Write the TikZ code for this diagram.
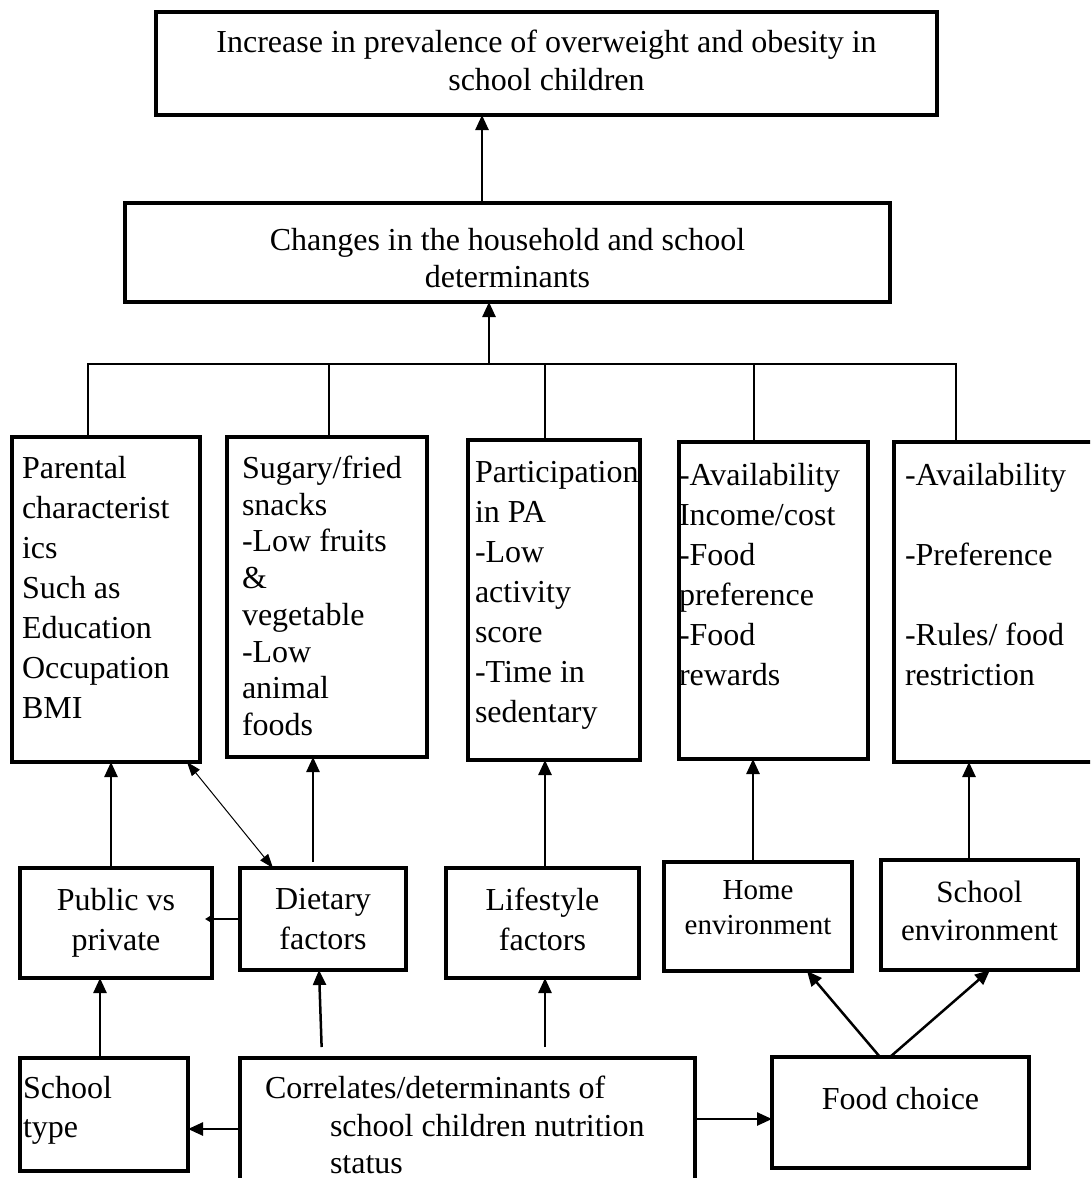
\documentclass[tikz,border=0pt]{standalone}
\usepackage{fontspec}
\setmainfont{Liberation Serif}
\usetikzlibrary{arrows.meta}

\newcommand{\varbus}{364}
\newcommand{\boxcell}[4]{\begin{minipage}[c][#2][t]{#1}\vspace*{#3}#4\end{minipage}}

\tikzset{
	box/.style={draw, line width=3.2pt, anchor=north west, inner sep=0pt, outer sep=0pt,
		font=\fontsize{32}{40}\selectfont},
	link/.style={line width=2.5pt, -{Triangle[length=15pt,width=13pt]}},
	smalllink/.style={line width=2.5pt, -{Triangle[length=8pt,width=9pt]}, shorten >=-7pt},
	twoway/.style={line width=1pt, {Triangle[length=14pt,width=10pt]}-{Triangle[length=14pt,width=10pt]}},
	bus/.style={line width=2.7pt},
}

\begin{document}
\begin{tikzpicture}[x=1pt, y=-1pt]

	\useasboundingbox (0,0) rectangle (1090,1178);
	\clip (0,0) rectangle (1090,1178);

	% top boxes
	\node[box, line width=4pt, font=\fontsize{32}{38}\selectfont] (increase) at (156,12)
		{\boxcell{781pt}{103pt}{18pt}{\centering Increase in prevalence of overweight and obesity in\\school children}};
	\node[box, line width=3.5pt, font=\fontsize{32}{37}\selectfont] (changes) at (125,203)
		{\boxcell{765pt}{99pt}{25pt}{\centering Changes in the household and school\\determinants}};

	% determinant lists
	\node[box] (parental) at (12,437)
		{\boxcell{188pt}{325pt}{19pt}{\leftskip=10pt Parental\\characterist\\ics\\Such as\\Education\\Occupation\\BMI}};
	\node[box, font=\fontsize{32}{36.7}\selectfont] (snacks) at (227,437)
		{\boxcell{200pt}{320pt}{19pt}{\leftskip=15pt Sugary/fried\\snacks\\-Low fruits\\\&\\vegetable\\-Low\\animal\\foods}};
	\node[box] (activity) at (468,440)
		{\boxcell{172pt}{320pt}{21pt}{\leftskip=7pt Participation\\in PA\\-Low\\activity\\score\\-Time in\\sedentary}};
	\node[box] (homelist) at (679,442)
		{\boxcell{189pt}{317pt}{21pt}{-Availability\\Income/cost\\-Food\\preference\\-Food\\rewards}};
	\node[box] (schoollist) at (894,442)
		{\boxcell{215pt}{320pt}{21pt}{\leftskip=11pt -Availability\\[40pt]-Preference\\[40pt]-Rules/ food\\restriction}};

	% factor boxes
	\node[box] (public) at (20,868)
		{\boxcell{192pt}{110pt}{20pt}{\centering Public vs\\private}};
	\node[box] (dietary) at (240,868)
		{\boxcell{166pt}{102pt}{20pt}{\centering Dietary\\factors}};
	\node[box] (lifestyle) at (446,868)
		{\boxcell{193pt}{110pt}{20pt}{\centering Lifestyle\\factors}};
	\node[box, font=\fontsize{29}{35}\selectfont] (homeenv) at (664,862)
		{\boxcell{188pt}{109pt}{18pt}{\centering Home\\environment}};
	\node[box, font=\fontsize{31}{38}\selectfont] (schoolenv) at (881,860)
		{\boxcell{197pt}{110pt}{21pt}{\centering School\\environment}};

	% bottom row
	\node[box, font=\fontsize{32}{39}\selectfont] (schooltype) at (20,1058)
		{\boxcell{168pt}{113pt}{18pt}{\leftskip=3pt School\\type}};
	\node[box, font=\fontsize{32}{37.5}\selectfont] (correlates) at (240,1058)
		{\boxcell{455pt}{160pt}{18pt}{\leftskip=25pt Correlates/determinants of\\\hspace*{65pt}school children nutrition\\\hspace*{65pt}status}};
	\node[box] (foodchoice) at (772,1057)
		{\boxcell{257pt}{111pt}{30pt}{\centering Food choice}};

	% bus
	\coordinate (busleft) at (88,\varbus);
	\coordinate (busright) at (956,\varbus);
	\coordinate (hub) at (489,\varbus);
	\draw[bus] (parental.north -| busleft) -- (busleft) -- (busright) -- (schoollist.north -| busright);
	\foreach \n/\x in {snacks/329, activity/545, homelist/754}
		\draw[bus] (\n.north -| \x,0) -- (\x,0 |- busleft);
	\draw[link] (hub) -- (changes.south -| hub);
	\draw[link] (changes.north -| 482,0) -- (increase.south -| 482,0);

	% arrows
	\foreach \a/\b/\x in {public/parental/111, schooltype/public/100, lifestyle/activity/545,
		homeenv/homelist/753, schoolenv/schoollist/969}
		\draw[link] (\a.north -| \x,0) -- (\b.south -| \x,0);
	\draw[link, shorten <=6pt] (dietary.north -| 313,0) -- (snacks.south -| 313,0);
	\draw[link, shorten <=11pt] (correlates.north -| 322,0) -- (dietary.south -| 319,0);
	\draw[link, shorten <=11pt] (correlates.north -| 545,0) -- (lifestyle.south -| 545,0);
	\draw[link] (foodchoice.north -| 880,0) -- (homeenv.south -| 807,0);
	\draw[link] (foodchoice.north -| 890,0) -- (schoolenv.south -| 990,0);
	\draw[link] (correlates.east |- 0,1119) -- (foodchoice.west |- 0,1119);
	\draw[link] (correlates.west |- 0,1129) -- (schooltype.east |- 0,1129);
	\draw[smalllink] (dietary.west |- 0,919) -- (public.east |- 0,919);
	\draw[twoway] (parental.south -| 187,0) -- (dietary.north -| 273,0);

\end{tikzpicture}
\end{document}
